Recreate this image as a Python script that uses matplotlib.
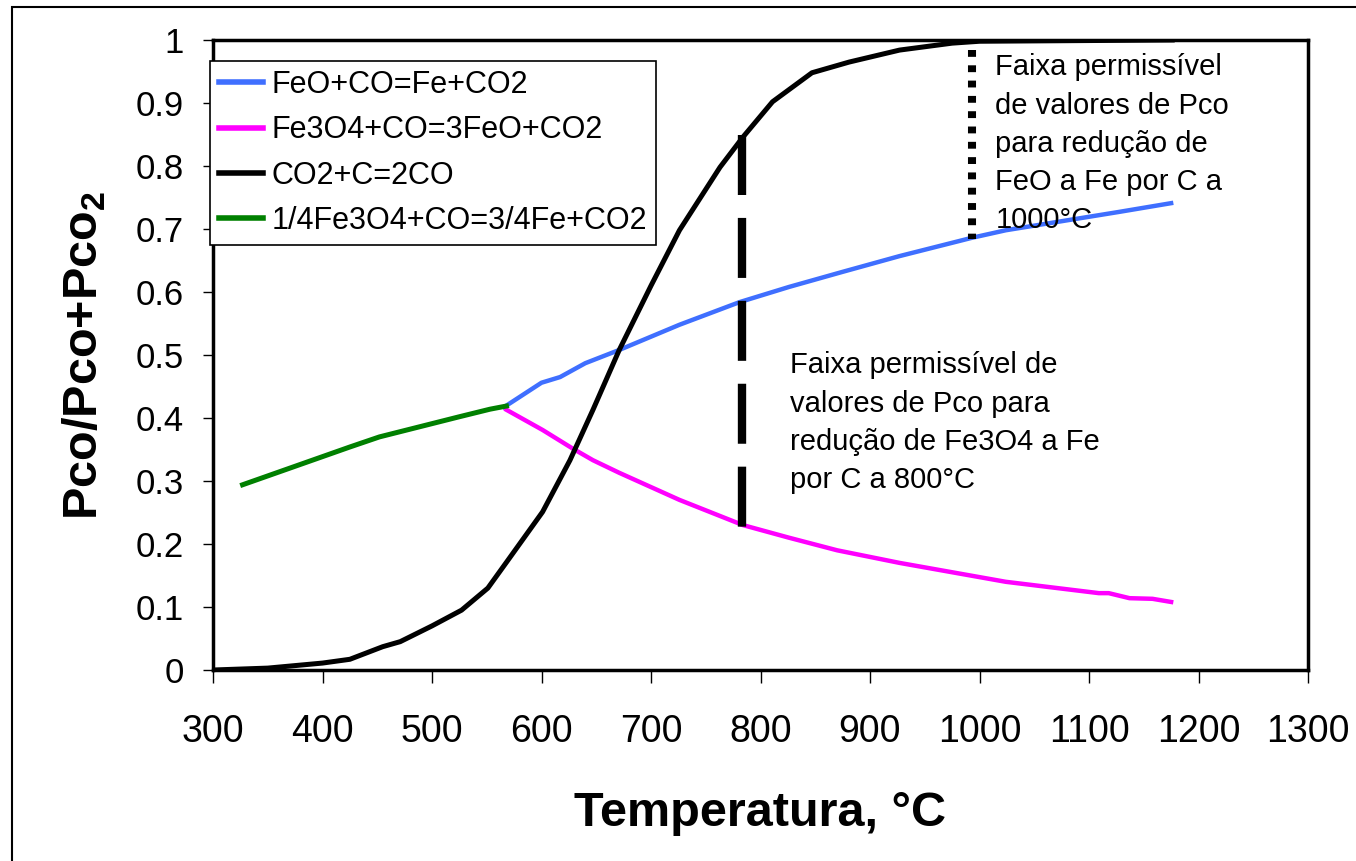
import matplotlib
matplotlib.use('Agg')
import matplotlib.pyplot as plt
from matplotlib.patches import Rectangle

plt.rcParams['font.family'] = ['Liberation Sans', 'DejaVu Sans']
plt.rcParams['mathtext.fontset'] = 'custom'
plt.rcParams['mathtext.rm'] = 'Liberation Sans'
plt.rcParams['mathtext.bf'] = 'Liberation Sans:bold'

# FeO+CO=Fe+CO2
feo_T = [566, 600, 617, 640, 671, 726, 781, 826, 875, 927, 993, 1024, 1127, 1175]
feo_y = [0.4175, 0.456, 0.465, 0.487, 0.508, 0.548, 0.584, 0.608, 0.632, 0.657, 0.686, 0.698, 0.727, 0.741]

# Fe3O4+CO=3FeO+CO2
mag_T = [568, 601, 628, 647, 671, 726, 784, 826, 870, 927, 1024, 1109, 1118, 1137, 1158, 1175]
mag_y = [0.413, 0.381, 0.352, 0.333, 0.313, 0.270, 0.230, 0.210, 0.190, 0.170, 0.140, 0.122, 0.122, 0.114, 0.113, 0.108]

# CO2+C=2CO
bou_T = [300, 350, 400, 425, 455, 471, 500, 527, 551, 568, 601, 626, 647, 671, 700,
         726, 763, 784, 811, 847, 881, 927, 975, 1000, 1176]
bou_y = [0.0, 0.003, 0.011, 0.017, 0.037, 0.045, 0.070, 0.095, 0.130, 0.171, 0.251, 0.333, 0.413, 0.508, 0.610,
         0.698, 0.798, 0.846, 0.902, 0.948, 0.965, 0.984, 0.995, 0.998, 1.0]

# 1/4Fe3O4+CO=3/4Fe+CO2
fe3_T = [327, 425, 452, 525, 553, 568]
fe3_y = [0.294, 0.354, 0.370, 0.402, 0.414, 0.419]

# faixas permissiveis
faixa800_T = 783
faixa800_y = [0.849, 0.222]
faixa1000_T = 993
faixa1000_y = [0.984, 0.684]

xticks = list(range(300, 1301, 100))
yticks = [i / 10 for i in range(11)]
ylabels = ['0', '0.1', '0.2', '0.3', '0.4', '0.5', '0.6', '0.7', '0.8', '0.9', '1']

txt800 = ['Faixa permissível de', 'valores de Pco para', 'redução de Fe3O4 a Fe', 'por C a 800°C']
txt1000 = ['Faixa permissível', 'de valores de Pco', 'para redução de', 'FeO a Fe por C a', '1000°C']

fig = plt.figure(figsize=(13.56, 8.61), dpi=100)
ax = fig.add_axes([213 / 1356, 1 - 670 / 861, 1095 / 1356, 630 / 861])

ax.plot(feo_T, feo_y, color='#3f6fff', lw=3.2, label='FeO+CO=Fe+CO2')
ax.plot(mag_T, mag_y, color='#ff00ff', lw=3.2, label='Fe3O4+CO=3FeO+CO2')
ax.plot(bou_T, bou_y, color='black', lw=3.6, label='CO2+C=2CO')
ax.plot(fe3_T, fe3_y, color='#008000', lw=3.6, label='1/4Fe3O4+CO=3/4Fe+CO2')

ax.plot([faixa800_T, faixa800_T], faixa800_y, color='black', lw=6,
        linestyle=(0, (7.2, 2.75)), solid_capstyle='butt', dash_capstyle='butt')
ax.plot([faixa1000_T, faixa1000_T], faixa1000_y, color='black', lw=5.8,
        linestyle=(0, (0.85, 1.05)), dash_capstyle='butt')

for i, s in enumerate(txt800):
    ax.text(826.5, 0.471 - i * 0.0608, s, fontsize=21, va='baseline', ha='left')
for i, s in enumerate(txt1000):
    ax.text(1014.4, 0.944 - i * 0.0608, s, fontsize=21, va='baseline', ha='left')

ax.set_xlim(300, 1300)
ax.set_ylim(0, 1)
ax.set_xticks(xticks)
ax.set_yticks(yticks)
ax.set_yticklabels(ylabels)
ax.tick_params(axis='x', direction='out', length=9.4, width=1, labelsize=27, pad=22)
ax.tick_params(axis='y', direction='out', length=7.2, width=1, labelsize=25, pad=14)
for sp in ax.spines.values():
    sp.set_linewidth(2.5)

ax.set_xlabel('Temperatura, °C', fontsize=35, fontweight='bold', labelpad=30)
ax.set_ylabel(r'Pco/Pco+Pco$_\mathbf{2}$', fontsize=35, fontweight='bold', labelpad=20)

leg = ax.legend(loc='upper left', bbox_to_anchor=(-0.003, 0.967), borderaxespad=0,
                fontsize=22, fancybox=False, framealpha=1, edgecolor='black',
                handlelength=1.45, handletextpad=0.28, labelspacing=0.5, borderpad=0.3)
leg.get_frame().set_linewidth(1.2)
for ln in leg.get_lines():
    ln.set_linewidth(4)

fig.add_artist(Rectangle((12 / 1356, -0.1), 2, 0.1 + 1 - 7 / 861, transform=fig.transFigure,
                         fill=False, ec='black', lw=1.5))

fig.savefig('out.png', dpi=100)
